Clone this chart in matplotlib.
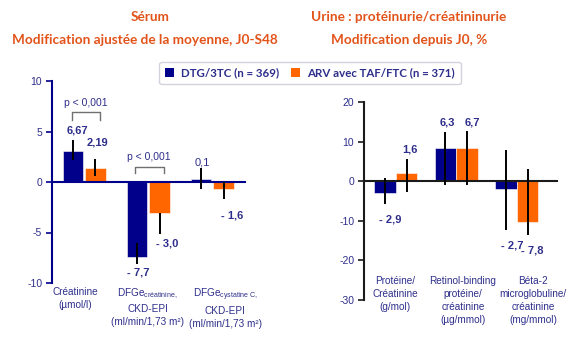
import matplotlib
matplotlib.use("Agg")
import matplotlib.pyplot as plt
from matplotlib.patches import Patch

# ---- data ----
groups = ["DTG/3TC (n = 369)", "ARV avec TAF/FTC (n = 371)"]

serum_cats = ["Créatinine\n(µmol/l)",
              "DFGe$_{\\mathregular{créatinine,}}$\nCKD-EPI\n(ml/min/1,73 m²)",
              "DFGe$_{\\mathregular{cystatine\\ C,}}$\nCKD-EPI\n(ml/min/1,73 m²)"]
serum_dtg = [3.1, -7.4, 0.25]
serum_arv = [1.35, -3.05, -0.7]
serum_dtg_lo = [2.15, -8.1, -0.7]
serum_dtg_hi = [4.15, -6.0, 1.35]
serum_arv_lo = [0.6, -5.15, -1.7]
serum_arv_hi = [2.3, -3.05, 0.0]
serum_dtg_lbl = ["6,67", "- 7,7", "0,1"]
serum_arv_lbl = ["2,19", "- 3,0", "- 1,6"]

urine_cats = ["Protéine/\nCréatinine\n(g/mol)",
              "Retinol-binding\nprotéine/\ncréatinine\n(µg/mmol)",
              "Béta-2\nmicroglobuline/\ncréatinine\n(mg/mmol)"]
urine_dtg = [-3.0, 8.3, -2.0]
urine_arv = [2.0, 8.5, -10.3]
urine_dtg_lo = [-5.8, -1.0, -12.2]
urine_dtg_hi = [0.7, 12.4, 8.0]
urine_arv_lo = [-2.8, -1.0, -13.5]
urine_arv_hi = [5.5, 12.7, 3.2]
urine_dtg_lbl = ["- 2,9", "6,3", "- 2,7"]
urine_arv_lbl = ["1,6", "6,7", "- 7,8"]

NAVY = "#00008B"
ORANGE = "#FF6600"
TXT = "#2E2E8C"
TITLE = "#E2531A"

plt.rcParams['font.family'] = ['Liberation Sans', 'DejaVu Sans']
plt.rcParams['axes.unicode_minus'] = False

fig = plt.figure(figsize=(5.83, 3.37), dpi=100)
W, H = 583, 337


def px_axes(x0, x1, ytop, ybot):
    return fig.add_axes([x0 / W, 1 - ybot / H, (x1 - x0) / W, (ybot - ytop) / H])


def style_axes(ax, col, yticks):
    for s in ['top', 'right']:
        ax.spines[s].set_visible(False)
    ax.spines['bottom'].set_position(('data', 0))
    ax.spines['bottom'].set_color(col)
    ax.spines['bottom'].set_linewidth(1.5)
    ax.spines['left'].set_color(col)
    ax.spines['left'].set_linewidth(1.5)
    ax.set_xticks([])
    ax.set_yticks(yticks)
    ax.tick_params(axis='y', colors=col, labelcolor=TXT, labelsize=7.5,
                   length=4, width=1.2, direction='out', pad=3)
    ax.patch.set_alpha(0)


def draw_bars(ax, dtg, arv, dlo, dhi, alo, ahi, w, off):
    x = range(len(dtg))
    xd = [i - off for i in x]
    xa = [i + off for i in x]
    ax.bar(xd, dtg, width=w, color=NAVY, edgecolor='white', linewidth=0.4, zorder=2)
    ax.bar(xa, arv, width=w, color=ORANGE, edgecolor='white', linewidth=0.4, zorder=2)
    ax.vlines(xd, dlo, dhi, color='black', linewidth=1.4, zorder=3)
    ax.vlines(xa, alo, ahi, color='black', linewidth=1.4, zorder=3)


def bracket(ax, x0, x1, ytop, ybot, text, ytext):
    ax.plot([x0, x0, x1, x1], [ybot, ytop, ytop, ybot], color='#707070', lw=1.0,
            clip_on=False, zorder=4)
    ax.text((x0 + x1) / 2, ytext, text, ha='center', va='center', fontsize=7.5,
            color=TXT, clip_on=False)


# ---- left panel: serum ----
ax1 = px_axes(52, 245, 81, 283)
draw_bars(ax1, serum_dtg, serum_arv, serum_dtg_lo, serum_dtg_hi,
          serum_arv_lo, serum_arv_hi, 0.32, 0.175)
ax1.set_xlim(-0.503, 2.508)
ax1.set_ylim(-10, 10)
style_axes(ax1, NAVY, [-10, -5, 0, 5, 10])

bold = dict(ha='center', va='center', fontsize=8, fontweight='bold', color=TXT,
            clip_on=False)
ax1.text(-0.10, 5.05, serum_dtg_lbl[0], **bold)
ax1.text(0.20, 3.96, serum_arv_lbl[0], **bold)
ax1.text(0.84, -9.0, serum_dtg_lbl[1], **bold)
ax1.text(1.29, -6.04, serum_arv_lbl[1], **bold)
ax1.text(1.84, 1.98, serum_dtg_lbl[2], ha='center', va='center', fontsize=8,
         color=TXT)
ax1.text(2.30, -3.27, serum_arv_lbl[2], **bold)

bracket(ax1, -0.19, 0.246, 6.93, 6.14, "p < 0,001", 7.8)
bracket(ax1, 0.79, 1.24, 1.49, 0.89, "p < 0,001", 2.48)

for xc, lab in zip([-0.14, 0.99, 2.2], serum_cats):
    ax1.text(xc, -10.35, lab, ha='center', va='top', fontsize=7.2, color=TXT,
             linespacing=1.4, clip_on=False)

# ---- right panel: urine ----
ax2 = px_axes(364, 557, 102, 300)
draw_bars(ax2, urine_dtg, urine_arv, urine_dtg_lo, urine_dtg_hi,
          urine_arv_lo, urine_arv_hi, 0.35, 0.178)
ax2.set_xlim(-0.525, 2.665)
ax2.set_ylim(-30, 20)
style_axes(ax2, '#1a1a1a', [-30, -20, -10, 0, 10, 20])

ax2.text(-0.095, -9.6, urine_dtg_lbl[0], **bold)
ax2.text(0.235, 8.1, urine_arv_lbl[0], **bold)
ax2.text(0.85, 14.7, urine_dtg_lbl[1], **bold)
ax2.text(1.26, 14.7, urine_arv_lbl[1], **bold)
ax2.text(1.92, -16.2, urine_dtg_lbl[2], **bold)
ax2.text(2.25, -17.5, urine_arv_lbl[2], **bold)

for xc, lab in zip([-0.01, 1.11, 2.27], urine_cats):
    ax2.text(xc, -24.0, lab, ha='center', va='top', fontsize=7.2, color=TXT,
             linespacing=1.35, clip_on=False)

# ---- titles ----
tfont = dict(ha='center', va='center', fontsize=9.8, fontweight='bold',
             color=TITLE, family='Lato')
fig.text(150 / W, 1 - 17 / H, "Sérum", **tfont)
fig.text(145 / W, 1 - 40 / H, "Modification ajustée de la moyenne, J0-S48", **tfont)
fig.text(409 / W, 1 - 17 / H, "Urine : protéinurie/créatininurie", **tfont)
fig.text(409 / W, 1 - 40 / H, "Modification depuis J0, %", **tfont)

# ---- legend ----
handles = [Patch(facecolor=NAVY, label=groups[0]),
           Patch(facecolor=ORANGE, label=groups[1])]
leg = fig.legend(handles=handles, loc='center', bbox_to_anchor=(310 / W, 1 - 73 / H),
                 ncol=2, frameon=True, fancybox=True, handlelength=0.8,
                 handleheight=0.8, handletextpad=0.6, columnspacing=1.0,
                 borderpad=0.5, prop=dict(family='Lato', weight='bold', size=8.3))
leg.get_frame().set_edgecolor('#c8c8d8')
leg.get_frame().set_linewidth(1.0)
for t in leg.get_texts():
    t.set_color(TXT)

fig.savefig("out.png", dpi=100)
